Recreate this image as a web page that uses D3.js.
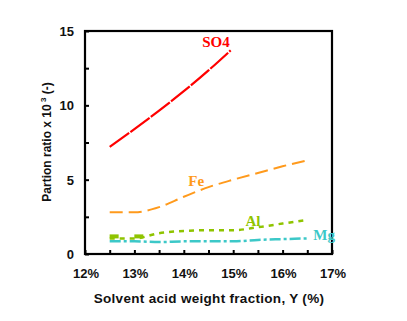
<!DOCTYPE html>
<html>
<head>
<meta charset="utf-8">
<script src="https://cdn.jsdelivr.net/npm/d3@7"></script>
<style>
  body { margin: 0; background: #fff; }
  text { font-family: "Liberation Sans", Arial, sans-serif; }
</style>
</head>
<body>
<div id="chart"></div>
<script>
// x = solvent acid weight fraction (%), y = partition ratio x 10^3
const so4X = [12.5, 13, 13.5, 14, 14.5, 14.95];
const so4Y = [7.2, 8.4, 9.65, 10.95, 12.35, 13.7];
const feX = [12.5, 13, 13.5, 14, 14.5, 15, 15.5, 16, 16.5];
const feY = [2.8, 2.8, 3.15, 3.85, 4.5, 5.0, 5.45, 5.9, 6.3];
const alX = [12.5, 13, 13.5, 14, 14.5, 15, 15.5, 16, 16.5];
const alY = [1.05, 1.05, 1.4, 1.55, 1.6, 1.6, 1.8, 2.05, 2.3];
const mgX = [12.5, 13, 13.5, 14, 14.5, 15, 15.5, 16, 16.5];
const mgY = [0.85, 0.85, 0.8, 0.85, 0.85, 0.85, 0.95, 1.0, 1.05];
const xTicks = [12, 13, 14, 15, 16, 17];
const yTicks = [0, 5, 10, 15];

const width = 407, height = 321;
const margin = {left: 85, right: 75, top: 31, bottom: 67};

const svg = d3.select("#chart").append("svg")
    .attr("width", width)
    .attr("height", height);

const x = d3.scaleLinear().domain([12, 17]).range([margin.left, width - margin.right]);
const y = d3.scaleLinear().domain([0, 15]).range([height - margin.bottom, margin.top]);

const series = [
    {name: "SO4", xs: so4X, ys: so4Y, color: "#ff0000", dash: "24,1.5", w: 2.2, lx: 14.65, ly: 13.95},
    {name: "Fe", xs: feX, ys: feY, color: "#ff9a1c", dash: "13,6", w: 2, lx: 14.25, ly: 4.6},
    {name: "Al", xs: alX, ys: alY, color: "#8fc400", dash: "5,5", w: 2.5, lx: 15.4, ly: 1.85},
    {name: "Mg", xs: mgX, ys: mgY, color: "#3cc8c8", dash: "11,3,3,3", w: 2.5, lx: 16.84, ly: 0.95}
];

const line = d3.line()
    .x(d => x(d[0]))
    .y(d => y(d[1]))
    .curve(d3.curveMonotoneX);

series.forEach(s => {
    svg.append("path")
        .datum(s.xs.map((v, i) => [v, s.ys[i]]))
        .attr("fill", "none")
        .attr("stroke", s.color)
        .attr("stroke-width", s.w)
        .attr("stroke-dasharray", s.dash)
        .attr("d", line);
});

// small square markers at start of Al
svg.selectAll(".alm")
    .data([12.6, 13.1])
    .enter().append("rect")
    .attr("x", d => x(d) - 5)
    .attr("y", y(1.05) - 4)
    .attr("width", 9)
    .attr("height", 4)
    .attr("fill", "#8fc400");

// frame
svg.append("rect")
    .attr("x", x(12))
    .attr("y", y(15))
    .attr("width", x(17) - x(12))
    .attr("height", y(0) - y(15))
    .attr("fill", "none")
    .attr("stroke", "#000")
    .attr("stroke-width", 2.2);

// labels
series.forEach(s => {
    svg.append("text")
        .attr("x", x(s.lx))
        .attr("y", y(s.ly))
        .attr("text-anchor", "middle")
        .style("font-family", "'Liberation Serif', 'Times New Roman', serif")
        .style("font-weight", "bold")
        .style("font-size", "15px")
        .attr("fill", s.color)
        .text(s.name);
});

// inner ticks
const xAxis = d3.axisTop(x).tickValues(d3.range(12, 17.01, 0.5)).tickSize(4).tickFormat("");
svg.append("g")
    .attr("transform", `translate(0,${y(0)})`)
    .call(xAxis)
    .call(g => g.select(".domain").remove())
    .call(g => g.selectAll("line").attr("stroke-width", 2));

const yAxis = d3.axisRight(y).tickValues(d3.range(0, 15.01, 2.5)).tickSize(4).tickFormat("");
svg.append("g")
    .attr("transform", `translate(${x(12)},0)`)
    .call(yAxis)
    .call(g => g.select(".domain").remove())
    .call(g => g.selectAll("line").attr("stroke-width", 2));

// tick labels
svg.selectAll(".xl")
    .data(xTicks)
    .enter().append("text")
    .attr("x", d => x(d) + 1)
    .attr("y", y(0) + 24)
    .attr("text-anchor", "middle")
    .style("font-size", "13px")
    .style("font-weight", "bold")
    .attr("fill", "#111")
    .text(d => d + "%");

svg.selectAll(".yl")
    .data(yTicks)
    .enter().append("text")
    .attr("x", x(12) - 11)
    .attr("y", d => y(d) + 5)
    .attr("text-anchor", "end")
    .style("font-size", "13px")
    .style("font-weight", "bold")
    .attr("fill", "#111")
    .text(d => d);

// axis titles
svg.append("text")
    .attr("x", 209)
    .attr("y", 303)
    .attr("text-anchor", "middle")
    .style("font-size", "13.5px")
    .style("font-weight", "bold")
    .style("letter-spacing", "0.3px")
    .attr("fill", "#111")
    .text("Solvent acid weight fraction, Y (%)");

const yt = svg.append("text")
    .attr("transform", "translate(51,142) rotate(-90)")
    .attr("text-anchor", "middle")
    .style("font-size", "12px")
    .style("font-weight", "bold")
    .attr("fill", "#111");
yt.append("tspan").text("Partion ratio x 10");
yt.append("tspan").attr("dy", -5).style("font-size", "8px").text(" 3");
yt.append("tspan").attr("dy", 5).text(" (-)");
</script>
</body>
</html>
